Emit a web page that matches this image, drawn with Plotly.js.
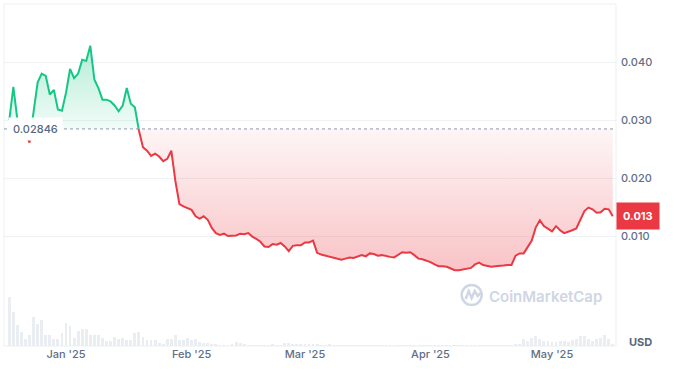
<!DOCTYPE html>
<html>
<head>
<meta charset="utf-8">
<script src="https://cdn.plot.ly/plotly-3.0.1.min.js"></script>
<style>
html,body{margin:0;padding:0;background:#fff;}
#chart{width:681px;height:370px;}
</style>
</head>
<body>
<div id="chart"></div>
<script>
// ---- data ----
const startDate = '2024-12-18';
const price = [
0.0300,0.0357,0.0300,0.0285,0.0276,0.0261,0.0318,0.0365,0.0380,0.0376,
0.0344,0.0352,0.0318,0.0316,0.0347,0.0388,0.0372,0.0380,0.0404,0.0402,
0.0428,0.0370,0.0355,0.0335,0.0335,0.0332,0.0325,0.0315,0.0325,0.0355,
0.0328,0.0322,0.0282,0.0253,0.0247,0.0238,0.0242,0.0237,0.0229,0.0233,
0.0247,0.0195,0.0155,0.0151,0.0148,0.0145,0.0134,0.0130,0.0134,0.0128,
0.0114,0.0105,0.0102,0.0104,0.0100,0.0100,0.0101,0.0104,0.0103,0.0105,
0.0099,0.0095,0.0090,0.0082,0.0081,0.0086,0.0085,0.0088,0.0082,0.0074,
0.0083,0.0084,0.0084,0.0089,0.0089,0.0092,0.0071,0.0068,0.0066,0.0064,
0.0062,0.0060,0.0059,0.0061,0.0063,0.0062,0.0064,0.0067,0.0065,0.0070,
0.0069,0.0066,0.0067,0.0065,0.0064,0.0063,0.0068,0.0072,0.0071,0.0072,
0.0067,0.0061,0.0060,0.0058,0.0055,0.0051,0.0048,0.0048,0.0047,0.0044,
0.0041,0.0041,0.0042,0.0044,0.0045,0.0051,0.0054,0.0050,0.0048,0.0047,
0.0048,0.0048,0.0049,0.0050,0.0050,0.0066,0.0070,0.0070,0.0080,0.0092,
0.0115,0.0127,0.0117,0.0112,0.0108,0.0117,0.0110,0.0105,0.0107,0.0110,
0.0113,0.0128,0.0143,0.0149,0.0146,0.0140,0.0141,0.0147,0.0146,0.0134
];
const volume = [
1.00,0.69,0.44,0.29,0.15,0.22,0.59,0.46,0.53,0.23,
0.22,0.15,0.15,0.26,0.48,0.41,0.17,0.30,0.34,0.34,
0.23,0.22,0.23,0.17,0.10,0.10,0.19,0.15,0.17,0.12,
0.12,0.26,0.28,0.19,0.13,0.13,0.13,0.07,0.05,0.15,
0.14,0.23,0.12,0.13,0.17,0.13,0.15,0.08,0.06,0.06,
0.05,0.04,0.03,0.03,0.03,0.05,0.08,0.07,0.05,0.02,
0.02,0.03,0.02,0.02,0.03,0.04,0.02,0.03,0.06,0.07,
0.05,0.05,0.04,0.05,0.04,0.05,0.04,0.02,0.02,0.05,
0.02,0.02,0.02,0.03,0.03,0.02,0.03,0.03,0.02,0.03,
0.02,0.02,0.02,0.02,0.03,0.03,0.02,0.02,0.02,0.02,
0.02,0.02,0.02,0.02,0.03,0.02,0.02,0.02,0.02,0.02,
0.02,0.02,0.02,0.03,0.03,0.02,0.02,0.02,0.02,0.02,
0.02,0.02,0.02,0.02,0.03,0.05,0.04,0.14,0.10,0.17,
0.20,0.14,0.11,0.10,0.09,0.09,0.11,0.10,0.08,0.13,
0.15,0.21,0.20,0.14,0.10,0.14,0.16,0.22,0.14,0.05
];
const baseline = 0.02846;
const tickDates = ['2025-01-01','2025-02-01','2025-03-01','2025-04-01','2025-05-01'];
const tickText = ["Jan '25","Feb '25","Mar '25","Apr '25","May '25"];
const priceTicks = [0, 0.01, 0.02, 0.03, 0.04];
const priceTickText = ['', '0.010', '0.020', '0.030', '0.040'];

// ---- derived ----
const DAY = 86400000;
const t0 = Date.parse(startDate + 'T00:00:00Z');
const times = price.map((_, i) => t0 + i * DAY);

// insert crossing points with baseline
const px = [], py = [];
for (let i = 0; i < price.length; i++) {
  px.push(times[i]); py.push(price[i]);
  if (i < price.length - 1) {
    const a = price[i] - baseline, b = price[i + 1] - baseline;
    if (a * b < 0) {
      const f = a / (a - b);
      px.push(times[i] + f * DAY); py.push(baseline);
    }
  }
}
const baseY = px.map(() => baseline);
const upper = py.map(v => Math.max(v, baseline));
const lower = py.map(v => Math.min(v, baseline));
const greenY = py.map(v => v >= baseline ? v : null);
const redY = py.map(v => v <= baseline ? v : null);

const GREEN = '#16c784', RED = '#ea3943';
const FONT = 'Inter, "Noto Sans", sans-serif';
const TXT = '#616e85';

const traces = [
  {x: px, y: baseY, type: 'scatter', mode: 'lines', line: {width: 0}, hoverinfo: 'skip', showlegend: false},
  {x: px, y: upper, type: 'scatter', mode: 'lines', line: {width: 0}, fill: 'tonexty',
   fillgradient: {type: 'vertical', colorscale: [[0, 'rgba(22,199,132,0.06)'], [1, 'rgba(22,199,132,0.32)']]},
   hoverinfo: 'skip', showlegend: false},
  {x: px, y: baseY, type: 'scatter', mode: 'lines', line: {width: 0}, hoverinfo: 'skip', showlegend: false},
  {x: px, y: lower, type: 'scatter', mode: 'lines', line: {width: 0}, fill: 'tonexty',
   fillgradient: {type: 'vertical', colorscale: [[0, 'rgba(234,57,67,0.30)'], [1, 'rgba(234,57,67,0.05)']]},
   hoverinfo: 'skip', showlegend: false},
  {x: px, y: greenY, type: 'scatter', mode: 'lines', line: {color: GREEN, width: 2}, connectgaps: false, showlegend: false},
  {x: px, y: redY, type: 'scatter', mode: 'lines', line: {color: RED, width: 2}, connectgaps: false, showlegend: false},
  {x: times, y: volume, type: 'bar', yaxis: 'y2', marker: {color: '#eaedf1', line: {width: 0}},
   width: DAY * 0.7, showlegend: false}
];

const last = price[price.length - 1];
const lx = 0.7642, ly = 0.1491;

const layout = {
  width: 681, height: 370,
  margin: {l: 4, r: 65, t: 4, b: 24},
  paper_bgcolor: '#fff', plot_bgcolor: '#fff',
  font: {family: FONT, size: 11, color: TXT},
  showlegend: false,
  bargap: 0,
  xaxis: {
    type: 'date',
    range: [t0 - 1.31 * DAY, t0 + 149.8 * DAY],
    anchor: 'y2',
    tickvals: tickDates, ticktext: tickText,
    showgrid: false, zeroline: false, showline: false, ticks: '',
    tickfont: {family: FONT, size: 11, color: TXT, weight: 500}
  },
  yaxis: {
    domain: [0.15205, 1], range: [0, 0.05], side: 'right', anchor: 'x',
    tickvals: priceTicks, ticktext: priceTickText,
    gridcolor: '#eff2f5', gridwidth: 1, zeroline: false, showline: false, ticks: '',
    ticklabelstandoff: 4,
    tickfont: {family: FONT, size: 11, color: TXT, weight: 500}
  },
  yaxis2: {
    domain: [0, 0.15205], range: [0, 1.07], anchor: 'x',
    showgrid: false, zeroline: false, showticklabels: false, showline: false
  },
  shapes: [
    {type: 'rect', xref: 'paper', yref: 'paper', x0: 0, x1: 1, y0: 0, y1: 1,
     line: {color: '#eceff3', width: 1}, layer: 'below'},
    {type: 'line', xref: 'paper', yref: 'y', x0: 0, x1: 1, y0: baseline, y1: baseline,
     line: {color: '#8f98a8', width: 1, dash: 'dot'}},
    {type: 'circle', xref: 'paper', yref: 'paper', xsizemode: 'pixel', ysizemode: 'pixel',
     xanchor: lx, yanchor: ly, x0: -10, x1: 10, y0: -10, y1: 10,
     line: {color: '#cfd6e4', width: 2.5}},
    {type: 'path', xref: 'paper', yref: 'paper', xsizemode: 'pixel', ysizemode: 'pixel',
     xanchor: lx, yanchor: ly,
     path: 'M -6 -4 L -3 4 L 0 -3 L 3 4 L 6 -1 L 9 2',
     line: {color: '#cfd6e4', width: 2.5}}
  ],
  annotations: [
    {xref: 'paper', yref: 'y', x: 0, y: baseline, xanchor: 'left', yanchor: 'middle', xshift: 4,
     text: baseline.toFixed(5), showarrow: false, bgcolor: '#ffffff', borderpad: 4,
     font: {family: FONT, size: 11, color: '#58667e', weight: 500}},
    {xref: 'paper', yref: 'y', x: 1, y: last, xanchor: 'left', yanchor: 'middle',
     text: last.toFixed(3), showarrow: false, bgcolor: RED, borderpad: 6,
     font: {family: FONT, size: 11, color: '#ffffff', weight: 700}},
    {xref: 'paper', yref: 'paper', x: 1, y: 0.012, xanchor: 'left', yanchor: 'middle', xshift: 11,
     text: 'USD', showarrow: false,
     font: {family: FONT, size: 11, color: '#58667e', weight: 700}},
    {xref: 'paper', yref: 'paper', x: 0.8856, y: 0.1433, xanchor: 'center', yanchor: 'middle',
     text: 'CoinMarketCap', showarrow: false,
     font: {family: FONT, size: 15, color: '#cfd6e4', weight: 600}}
  ]
};

Plotly.newPlot('chart', traces, layout, {staticPlot: true, displayModeBar: false});
</script>
</body>
</html>
